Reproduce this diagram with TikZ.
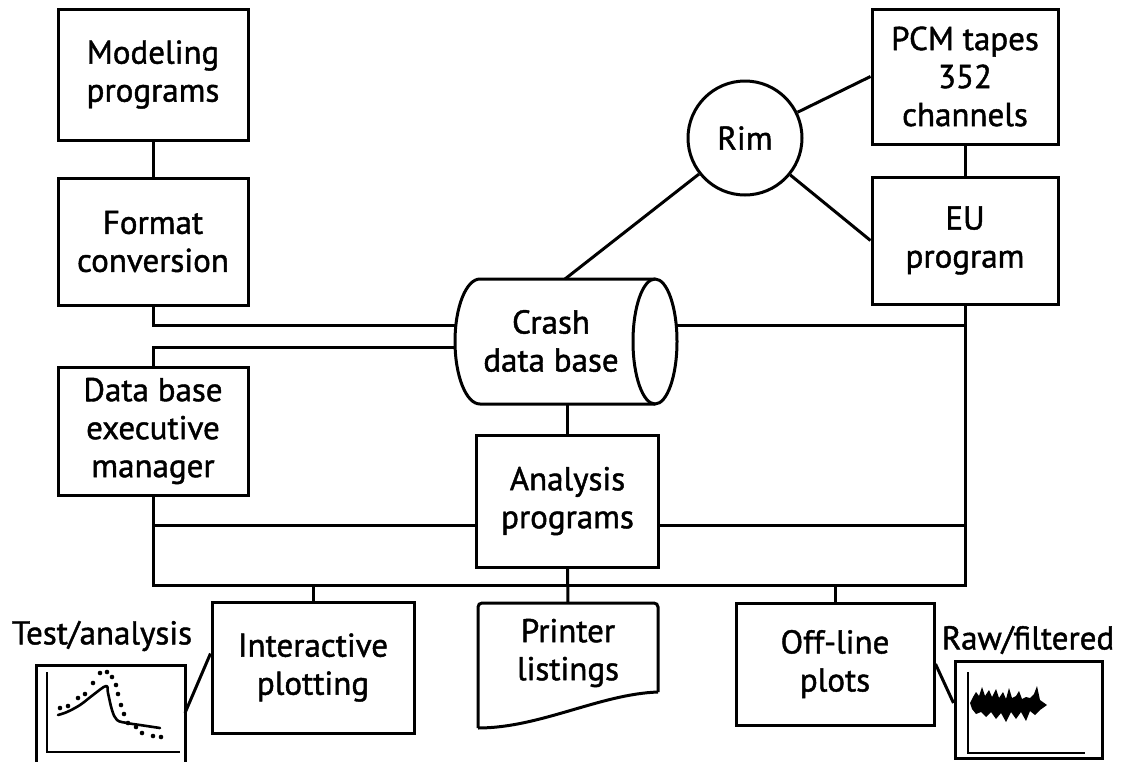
\documentclass[tikz,border=0pt]{standalone}
\usepackage{fontspec}
\setmainfont{PT Sans}[RawFeature={embolden=1.3}]
\begin{document}
\begin{tikzpicture}[x=1pt,y=-1pt,
  lbl/.style={font=\fontsize{33}{38}\selectfont, align=center, inner sep=0pt},
  box/.style={lbl, draw, rectangle, line width=3pt},
  conn/.style={line width=3pt},
  axis/.style={line width=2.4pt},
  curve/.style={line width=2.6pt, line cap=round, line join=round},
  dot/.style={circle, fill, inner sep=0pt, minimum size=4.6pt}]
\clip (0,0) rectangle (1122,761);
\fill[white] (0,0) rectangle (1122,761);

% left column
\node[box, minimum width=190pt, minimum height=131pt] (model) at (153,74.5) {Modeling\\programs};
\node[box, minimum width=190pt, minimum height=127pt] (format) at (153,241.5) {Format\\conversion};
\node[box, minimum width=190pt, minimum height=128pt] (dbem) at (153,431) {Data base\\executive\\manager};

% cylinder
\node[lbl] (cyl) at (551,341) {\fontsize{33}{40}\selectfont Crash\\data base};
\draw[conn] (655,279) -- (480,279) arc[start angle=270, end angle=90, x radius=25, y radius=62.5] -- (655,404);
\draw[conn] (655,341.5) ellipse[x radius=22, y radius=62.5];
\coordinate (cylL1) at (456,325);
\coordinate (cylL2) at (455,347);
\coordinate (cylR) at (676,325);
\coordinate (cylT) at (565,279);
\coordinate (cylB) at (567.5,404);

% analysis
\node[box, minimum width=182pt, minimum height=132pt] (analysis) at (567.5,501) {Analysis\\programs};

% right column
\node[box, minimum width=186pt, minimum height=135pt] (pcm) at (965,76.5) {PCM tapes\\352\\channels};
\node[box, minimum width=186pt, minimum height=127pt] (eu) at (965,240.5) {EU\\program};
\node[box, circle, minimum size=114pt] (rim) at (745,138) {Rim};

% outputs
\node[box, minimum width=202pt, minimum height=131pt] (inter) at (313,667.5) {Interactive\\plotting};
\node[lbl, minimum width=180pt, minimum height=124pt] (printer) at (568,665) {};
\node[lbl] (printertxt) at (568,653) {Printer\\listings};
\draw[conn, rounded corners=4pt] (658,692) -- (658,603) -- (478,603) -- (478,728);
\draw[conn] (658,692) .. controls (600,694) and (540,728) .. (478,728);
\node[box, minimum width=198pt, minimum height=122pt] (off) at (835,664) {\raisebox{-6pt}{\parbox{150pt}{\centering Off-line\\plots}}};

% plot boxes
\node[lbl] (tlabel) at (102,636) {Test/analysis};
\node[box, minimum width=149pt, minimum height=110pt] (tplot) at (110.5,720) {};
\node[lbl] (rlabel) at (1028,640) {Raw/filtered};
\node[box, minimum width=147pt, minimum height=97pt] (rplot) at (1028.5,709.5) {};

% connectors
\draw[conn] (model.south) -- (format.north);
\draw[conn] (format.south) |- (cylL1);
\draw[conn] (cylL2) -| (dbem.north);
\draw[conn] (cylB) -- (analysis.north);
\draw[conn] (rim) -- (cylT);
\draw[conn] (rim) -- (pcm.west);
\draw[conn] (rim) -- (eu.west);
\draw[conn] (pcm.south) -- (eu.north);
\coordinate (busL) at (153,585);
\coordinate (busR) at (965,585);
\coordinate (midL) at (153,525);
\draw[conn] (dbem.south) -- (busL) -- (busR) -- (eu.south);
\draw[conn] (cylR) -- (cylR -| eu.south);
\draw[conn] (midL) -- (midL -| analysis.west);
\draw[conn] (analysis.east |- midL) -- (midL -| eu.south);
\draw[conn] (analysis.south) -- (printer.north);
\draw[conn] (inter.north |- busL) -- (inter.north);
\draw[conn] (off.north |- busL) -- (off.north);
\coordinate (tpe) at (185,713);
\draw[conn] ([yshift=14pt]inter.west) -- (tpe);
\draw[conn] (off.east) -- ([yshift=6.5pt]rplot.west);

% test/analysis plot contents
\draw[axis] (47,672) -- (47,752) -- (180,752);
\draw[curve] plot[smooth, tension=0.6] coordinates {(58,715) (67,712) (80,705) (93,695) (106,686) (108,693) (112,710) (117,720) (127,723) (140,725) (160,728)};
\foreach \p in {(60,708),(68,706),(78,698),(85,694),(93,683),(100,673),(107,672),(112,677),(116,685),(118,694),(121,705),(124,714),(128,723),(136,727),(142,733),(153,736),(161,737)}
  \node[dot] at \p {};

% raw/filtered plot contents
\draw[axis] (968,672) -- (968,753) -- (1085,753);
\fill (970,703) -- (973,697) -- (976,692) -- (979,696) -- (982,687) -- (985,696) -- (989,690) -- (992,697) -- (996,689) -- (999,698) -- (1003,692) -- (1006,699) -- (1009,688) -- (1012,698) -- (1016,696) -- (1019,691) -- (1022,699) -- (1026,697) -- (1030,698) -- (1034,694) -- (1037,686) -- (1040,700) -- (1047,705)
  -- (1040,710) -- (1035,715) -- (1030,711) -- (1026,721) -- (1021,712) -- (1016,719) -- (1011,712) -- (1006,722) -- (1001,713) -- (996,719) -- (991,712) -- (986,717) -- (981,712) -- (976,714) -- (972,709) -- cycle;
\end{tikzpicture}
\end{document}
